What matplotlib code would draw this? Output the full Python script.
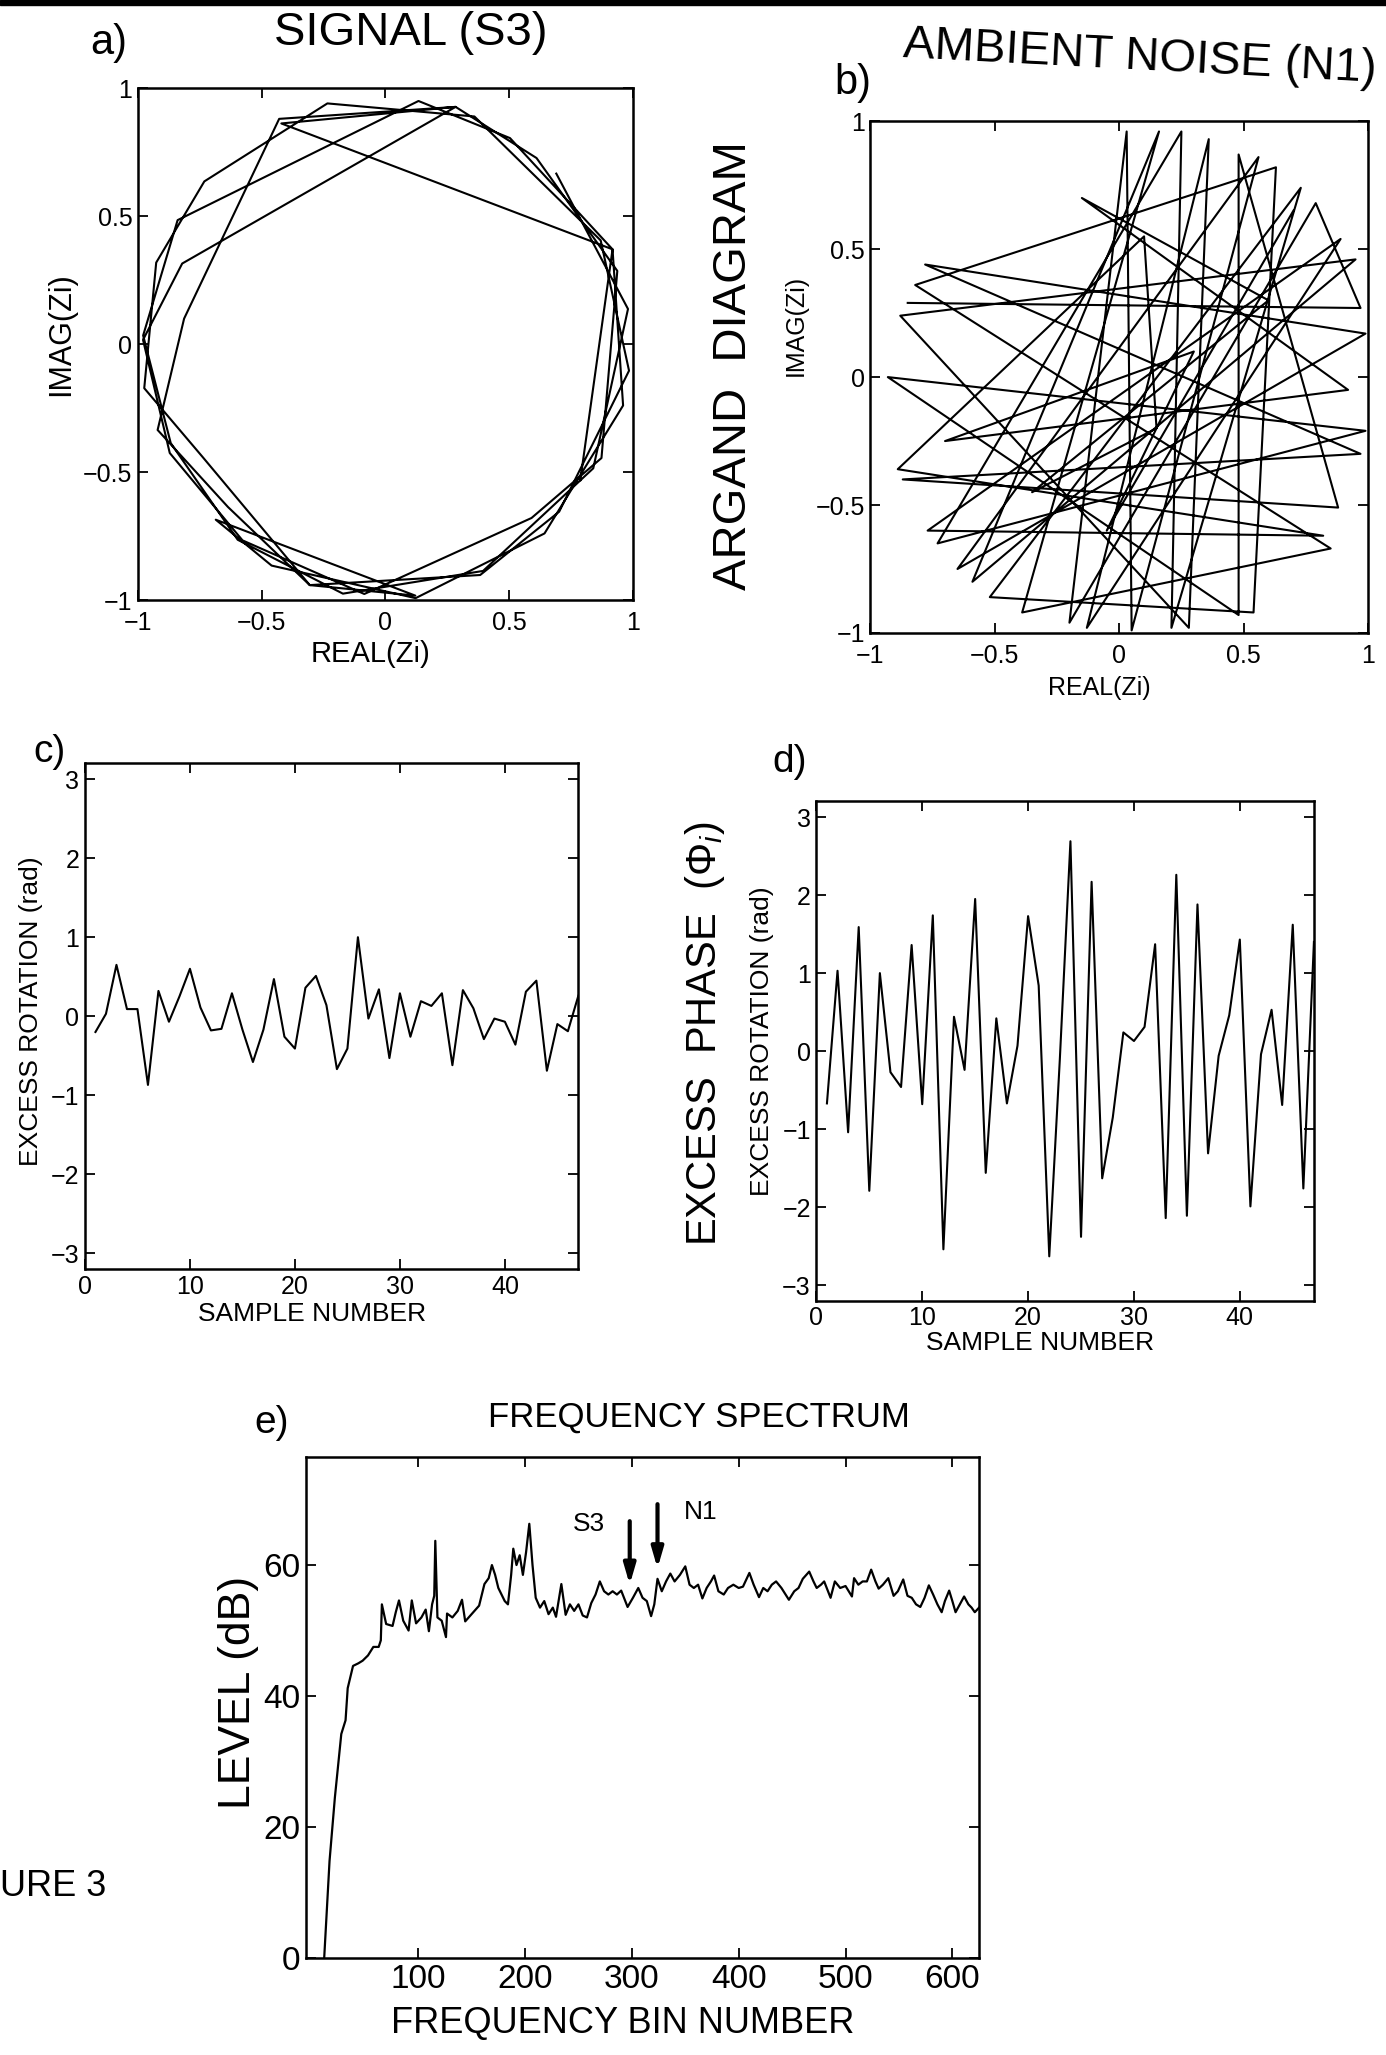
import numpy as np
import matplotlib.pyplot as plt
from matplotlib import font_manager

# fonts: helvetica-like, narrow face for the titles if available
plt.rcParams['font.family'] = ['Liberation Sans', 'DejaVu Sans']
plt.rcParams['mathtext.fontset'] = 'custom'
plt.rcParams['mathtext.rm'] = 'Liberation Sans'
plt.rcParams['mathtext.it'] = 'Liberation Sans:italic'
names = {f.name for f in font_manager.fontManager.ttflist}
narrow = 'Liberation Sans Narrow' if 'Liberation Sans Narrow' in names else 'Liberation Sans'

# ---- a) signal S3, Argand diagram (phase in degrees, magnitude)
sig_angle_deg = [44, 8, -30, -66, -100, -128, -156, 178, 150, 82, 58, 22, -14, -49, -83, -118,
                 -135, -83, -108, -149, -170, 161, 139, 104, 68, 25, -6, -43, -67, -108, -135, -160,
                 173, 116, 73, 50, 17, -27, -49, -95, -127, -154, 179, 159, 73, 116, 22, -34]
sig_mag = [0.96, 0.99, 0.97, 0.97, 0.99, 0.97, 0.95, 0.98, 0.97, 0.96, 0.95, 0.99, 0.99, 0.98, 1.0, 0.98,
           0.97, 0.99, 0.99, 0.86, 0.99, 0.98, 0.97, 0.97, 0.96, 0.96, 0.99, 0.96, 0.98, 0.99, 0.90, 0.98,
           0.82, 0.98, 0.97, 0.95, 0.98, 0.98, 0.90, 0.98, 0.96, 0.97, 0.98, 0.88, 0.97, 0.96, 0.99, 0.95]

# ---- b) ambient noise N1, Argand diagram
noise_re = [-0.85, 0.97, 0.79, -0.20, 0.03, 0.05, 0.56, -0.65, 0.99, -0.78, 0.97, -0.87, 0.88, 0.48, 0.48, -0.93,
            0.99, -0.73, 0.25, 0.21, 0.73, -0.52, 0.54, 0.63, -0.82, 0.85, -0.39, 0.16, -0.59, 0.95, -0.88, 0.28,
            0.36, -0.13, 0.89, -0.77, 0.82, -0.89, 0.10, 0.15, -0.35, 0.60, -0.15, 0.92, -0.70, 0.30, -0.05, 0.70]
noise_im = [0.29, 0.27, 0.68, -0.96, 0.96, -0.99, 0.86, -0.75, 0.17, 0.44, -0.30, -0.40, -0.51, 0.87, -0.93, 0.00,
            -0.21, -0.65, 0.96, -0.98, 0.74, -0.86, -0.92, 0.82, 0.36, -0.67, -0.92, 0.96, -0.80, 0.46, 0.24, -0.98,
            0.93, -0.98, 0.54, -0.60, -0.62, -0.36, 0.55, -0.20, -0.45, 0.30, 0.70, -0.05, -0.25, 0.10, -0.60, 0.65]

# ---- c), d) excess rotation per sample (rad)
samples = list(range(1, 48))
rot_signal = [-0.20, 0.03, 0.65, 0.09, 0.09, -0.87, 0.32, -0.07, 0.25, 0.60, 0.11, -0.18, -0.16, 0.29, -0.17, -0.58,
              -0.17, 0.47, -0.26, -0.41, 0.36, 0.51, 0.14, -0.67, -0.41, 1.00, -0.03, 0.34, -0.53, 0.29, -0.26, 0.19,
              0.13, 0.29, -0.62, 0.33, 0.10, -0.29, -0.03, -0.07, -0.36, 0.31, 0.45, -0.69, -0.10, -0.19, 0.26]
rot_noise = [-0.67, 1.03, -1.04, 1.59, -1.79, 1.00, -0.27, -0.46, 1.36, -0.68, 1.74, -2.54, 0.44, -0.24, 1.95, -1.56,
             0.42, -0.67, 0.07, 1.73, 0.84, -2.63, -0.10, 2.69, -2.38, 2.17, -1.63, -0.85, 0.24, 0.13, 0.31, 1.37,
             -2.14, 2.26, -2.11, 1.88, -1.31, -0.06, 0.46, 1.43, -1.99, -0.04, 0.53, -0.69, 1.62, -1.76, 1.40]

# ---- e) frequency spectrum
spec_bin = [12, 17, 22, 28, 32, 34, 39, 44, 48, 53, 58, 63, 65, 66, 70, 76, 79, 82, 86, 91,
            94, 98, 103, 107, 110, 113, 115, 116, 118, 122, 126, 127, 132, 137, 141, 144, 150, 157, 162, 166,
            169, 172, 175, 178, 181, 184, 187, 189, 192, 195, 198, 201, 204, 207, 210, 214, 218, 222, 226, 229,
            234, 238, 242, 246, 250, 254, 258, 262, 266, 270, 274, 278, 282, 286, 290, 296, 301, 306, 310, 314,
            318, 321, 324, 328, 332, 336, 340, 345, 350, 354, 358, 362, 366, 370, 374, 377, 381, 386, 390, 395,
            400, 404, 410, 414, 419, 423, 427, 431, 435, 440, 447, 452, 456, 460, 466, 470, 473, 477, 480, 486,
            490, 495, 500, 506, 508, 512, 516, 520, 524, 528, 531, 535, 540, 545, 549, 554, 558, 562, 566, 570,
            574, 578, 582, 586, 590, 593, 597, 600, 603, 607, 611, 615, 618, 621, 625]
spec_db = [0, 14.8, 24.5, 34.2, 36.3, 41.2, 44.6, 45.0, 45.4, 46.2, 47.5, 47.5, 48.5, 54.0, 51.0, 50.7, 52.8, 54.6, 51.5, 50.0,
           54.6, 51.1, 52.0, 53.2, 49.9, 54.0, 55.3, 63.7, 52.0, 51.5, 49.0, 52.6, 52.0, 53.0, 54.7, 51.4, 52.5, 53.8, 57.1, 58.0,
           60.0, 58.5, 56.5, 55.5, 54.5, 54.0, 58.5, 62.5, 60.0, 61.5, 58.5, 62.0, 66.3, 60.0, 55.0, 53.5, 54.5, 52.5, 53.5, 52.1,
           57.1, 52.4, 54.0, 53.0, 54.0, 52.3, 52.0, 54.2, 55.5, 57.5, 56.0, 55.5, 56.0, 55.5, 56.1, 53.6, 55.0, 56.5, 55.0, 54.5,
           52.2, 54.0, 57.9, 56.0, 57.5, 58.7, 57.5, 58.5, 59.8, 57.0, 56.5, 57.0, 54.9, 56.5, 57.5, 58.4, 56.0, 55.5, 56.5, 57.0,
           56.5, 56.7, 58.8, 57.0, 55.1, 56.5, 56.0, 57.0, 57.5, 56.5, 54.7, 56.0, 56.5, 57.9, 59.0, 57.5, 56.5, 57.0, 57.5, 55.0,
           57.5, 56.5, 56.8, 55.2, 58.0, 57.0, 57.5, 57.5, 59.3, 57.5, 56.4, 57.0, 58.0, 55.3, 56.0, 57.8, 55.3, 55.0, 54.0, 53.6,
           55.0, 56.9, 55.5, 54.0, 52.8, 54.5, 56.1, 54.5, 52.8, 54.0, 55.2, 54.0, 53.5, 52.8, 53.5]
s3_bin, s3_tip, s3_tail = 298, 57.0, 66.7
n1_bin, n1_tip, n1_tail = 324, 59.5, 69.3

unit_ticks = [-1, -0.5, 0, 0.5, 1]
unit_labels = ['\u22121', '\u22120.5', '0', '0.5', '1']
rad_ticks = [-3, -2, -1, 0, 1, 2, 3]
rad_labels = ['\u22123', '\u22122', '\u22121', '0', '1', '2', '3']


def style(ax, fs, xpad=4):
    ax.tick_params(direction='in', length=7, width=1.3, top=True, right=True, labelsize=fs, pad=4)
    ax.tick_params(axis='x', pad=xpad)
    for s in ax.spines.values():
        s.set_linewidth(1.8)


fig = plt.figure(figsize=(13.86, 20.55), dpi=100)
fig.add_artist(plt.Rectangle((0, 0.9975), 1, 0.0025, transform=fig.transFigure, color='black'))

# a) signal
ax = fig.add_axes([0.0996, 0.708, 0.357, 0.249])
ang = np.deg2rad(sig_angle_deg)
ax.plot(np.array(sig_mag) * np.cos(ang), np.array(sig_mag) * np.sin(ang), color='black', lw=1.5)
ax.set_xlim(-1, 1)
ax.set_ylim(-1, 1)
ax.set_xticks(unit_ticks, unit_labels)
ax.set_yticks(unit_ticks, unit_labels)
style(ax, 18, xpad=8)
ax.set_xlabel('REAL(Zi)', fontsize=21)
ax.set_ylabel('IMAG(Zi)', fontsize=22)
ax.xaxis.set_label_coords(0.47, -0.078)
ax.yaxis.set_label_coords(-0.125, 0.52)

# b) noise
ax = fig.add_axes([0.628, 0.692, 0.359, 0.249])
ax.plot(noise_re, noise_im, color='black', lw=1.5)
ax.set_xlim(-1, 1)
ax.set_ylim(-1, 1)
ax.set_xticks(unit_ticks, unit_labels)
ax.set_yticks(unit_ticks, unit_labels)
style(ax, 18, xpad=8)
ax.set_xlabel('REAL(Zi)', fontsize=18)
ax.set_ylabel('IMAG(Zi)', fontsize=18)
ax.xaxis.set_label_coords(0.46, -0.085)
ax.yaxis.set_label_coords(-0.125, 0.6)

# c) excess rotation, signal
ax = fig.add_axes([0.0613, 0.3825, 0.356, 0.246])
ax.plot(samples, rot_signal, color='black', lw=1.5)
ax.set_xlim(0, 47)
ax.set_ylim(-3.2, 3.2)
ax.set_xticks([0, 10, 20, 30, 40])
ax.set_yticks(rad_ticks, rad_labels)
style(ax, 18)
ax.set_xlabel('SAMPLE NUMBER', fontsize=19)
ax.set_ylabel('EXCESS ROTATION (rad)', fontsize=19)
ax.xaxis.set_label_coords(0.46, -0.065)
ax.yaxis.set_label_coords(-0.085, 0.51)

# d) excess rotation, noise
ax = fig.add_axes([0.589, 0.367, 0.359, 0.243])
ax.plot(samples, rot_noise, color='black', lw=1.5)
ax.set_xlim(0, 47)
ax.set_ylim(-3.2, 3.2)
ax.set_xticks([0, 10, 20, 30, 40])
ax.set_yticks(rad_ticks, rad_labels)
style(ax, 18)
ax.set_xlabel('SAMPLE NUMBER', fontsize=19)
ax.set_ylabel('EXCESS ROTATION (rad)', fontsize=19)
ax.xaxis.set_label_coords(0.45, -0.06)
ax.yaxis.set_label_coords(-0.085, 0.52)

# e) spectrum
ax = fig.add_axes([0.2208, 0.0472, 0.4856, 0.2438])
ax.plot(spec_bin, spec_db, color='black', lw=1.6)
ax.set_xlim(-5, 625)
ax.set_ylim(0, 76.5)
ax.set_xticks([100, 200, 300, 400, 500, 600])
ax.set_yticks([0, 20, 40, 60])
style(ax, 24)
ax.set_xlabel('FREQUENCY BIN NUMBER', fontsize=26)
ax.set_ylabel('LEVEL (dB)', fontsize=32)
ax.xaxis.set_label_coords(0.47, -0.095)
ax.yaxis.set_label_coords(-0.07, 0.53)
arrow = dict(arrowstyle='-|>,head_length=1.2,head_width=0.35', lw=3, color='black', shrinkA=0, shrinkB=0)
ax.annotate('', xy=(s3_bin, s3_tip), xytext=(s3_bin, s3_tail), arrowprops=arrow)
ax.annotate('', xy=(n1_bin, n1_tip), xytext=(n1_bin, n1_tail), arrowprops=arrow)
ax.text(260, 66.3, 'S3', fontsize=19, ha='center', va='center')
ax.text(364, 68.1, 'N1', fontsize=19, ha='center', va='center')

# titles and panel letters
fig.text(0.0786, 0.979, 'a)', fontsize=30, ha='center', va='center')
fig.text(0.2965, 0.984, 'SIGNAL (S3)', fontsize=34, ha='center', va='center', family=narrow)
fig.text(0.6155, 0.9596, 'b)', fontsize=30, ha='center', va='center')
fig.text(0.822, 0.972, 'AMBIENT NOISE (N1)', fontsize=34, ha='center', va='center', family=narrow, rotation=-3)
fig.text(0.5296, 0.822, 'ARGAND  DIAGRAM', fontsize=34, ha='center', va='center', rotation=90)
fig.text(0.036, 0.634, 'c)', fontsize=28, ha='center', va='center')
fig.text(0.570, 0.629, 'd)', fontsize=28, ha='center', va='center')
fig.text(0.5087, 0.497, r'EXCESS  PHASE  ($\Phi_i$)', fontsize=30, ha='center', va='center', rotation=90)
fig.text(0.196, 0.3075, 'e)', fontsize=28, ha='center', va='center')
fig.text(0.504, 0.3105, 'FREQUENCY SPECTRUM', fontsize=25, ha='center', va='center', family=narrow)
fig.text(0.0, 0.0818, 'URE 3', fontsize=26, ha='left', va='center')

fig.savefig('out.png', dpi=100)
